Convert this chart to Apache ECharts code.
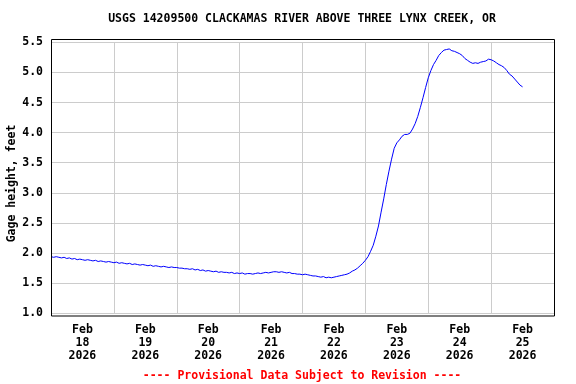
<!DOCTYPE html>
<html>
<head>
<meta charset="utf-8">
<script src="https://cdn.jsdelivr.net/npm/echarts@6/dist/echarts.min.js"></script>
<style>
html,body{margin:0;padding:0;background:#fff;}
#chart{width:576px;height:384px;}
</style>
</head>
<body>
<div id="chart"></div>
<script>
// Chart text
var titleText = 'USGS 14209500 CLACKAMAS RIVER ABOVE THREE LYNX CREEK, OR';
var yAxisTitle = 'Gage height, feet';
var footerText = '---- Provisional Data Subject to Revision ----';

// X axis day bands (each label centered on its day)
var dayLabels = ['Feb\n18\n2026','Feb\n19\n2026','Feb\n20\n2026','Feb\n21\n2026','Feb\n22\n2026','Feb\n23\n2026','Feb\n24\n2026','Feb\n25\n2026'];
var hoursSpan = 192; // Feb 18 00:00 -> Feb 26 00:00

// Y axis ticks
var yMin = 1.0, yMax = 5.5, yStep = 0.5;

// Hourly gage height readings starting Feb 18 00:00 (feet)
var gageHeight = [
 1.94,1.93,1.94,1.93,1.92,1.93,1.91,1.92,1.90,1.91,1.89,1.90,1.89,1.88,1.89,1.88,1.87,1.88,1.86,1.87,1.86,1.85,1.86,1.85,
 1.84,1.85,1.83,1.84,1.83,1.82,1.83,1.81,1.82,1.81,1.80,1.81,1.80,1.79,1.80,1.78,1.79,1.78,1.77,1.78,1.77,1.76,1.77,1.76,
 1.76,1.75,1.75,1.74,1.74,1.73,1.74,1.72,1.73,1.71,1.72,1.70,1.71,1.70,1.69,1.70,1.68,1.69,1.68,1.68,1.67,1.68,1.66,1.67,
 1.66,1.67,1.65,1.66,1.66,1.65,1.66,1.67,1.66,1.67,1.68,1.67,1.68,1.69,1.69,1.68,1.69,1.68,1.67,1.68,1.66,1.66,1.65,1.65,
 1.64,1.65,1.64,1.63,1.62,1.62,1.61,1.60,1.61,1.59,1.60,1.59,1.60,1.61,1.62,1.63,1.64,1.65,1.67,1.70,1.72,1.75,1.79,1.83,
 1.88,1.94,2.03,2.13,2.28,2.45,2.68,2.90,3.14,3.36,3.56,3.74,3.83,3.88,3.94,3.97,3.97,3.99,4.06,4.15,4.27,4.42,4.58,4.75,
 4.91,5.03,5.13,5.20,5.28,5.33,5.37,5.38,5.39,5.36,5.35,5.33,5.31,5.28,5.23,5.20,5.17,5.15,5.16,5.15,5.17,5.18,5.19,5.22,
 5.21,5.19,5.16,5.13,5.11,5.08,5.03,4.97,4.94,4.89,4.84,4.79,4.76
];

var seriesData = gageHeight.map(function(v, i){ return [i, v]; });

var monoFont = '"DejaVu Sans Mono", "Liberation Mono", monospace';

var chart = echarts.init(document.getElementById('chart'), null, {renderer:'canvas'});
chart.setOption({
  animation: false,
  backgroundColor: '#ffffff',
  grid: { left: 51, right: 22, top: 42.3, bottom: 70.7, containLabel: false },
  xAxis: [
    {
      type: 'category', data: dayLabels, boundaryGap: true, gridIndex: 0,
      axisLine: { show: false }, axisTick: { show: false },
      axisLabel: { interval: 0, margin: 10, color: '#000', fontFamily: monoFont, fontWeight: 'bold', fontSize: 11.5, lineHeight: 13 },
      splitLine: { show: true, interval: 0, lineStyle: { color: '#cccccc', width: 1 } }
    },
    {
      type: 'value', min: 0, max: hoursSpan, gridIndex: 0, show: false,
      splitLine: { show: false }
    }
  ],
  yAxis: {
    type: 'value', min: yMin, max: yMax, interval: yStep,
    axisLine: { show: false }, axisTick: { show: false },
    axisLabel: { margin: 8, color: '#000', fontFamily: monoFont, fontWeight: 'bold', fontSize: 11.5,
      formatter: function(v){ return v.toFixed(1); } },
    splitLine: { show: true, lineStyle: { color: '#cccccc', width: 1 } }
  },
  series: [{
    type: 'line', xAxisIndex: 1, yAxisIndex: 0, data: seriesData,
    showSymbol: false, symbol: 'none', smooth: false,
    lineStyle: { color: '#0000ff', width: 1 }
  }],
  graphic: [
    { type: 'rect', shape: { x: 51.5, y: 39.5, width: 503, height: 276.5 },
      style: { fill: null, stroke: '#000', lineWidth: 1 }, z: 100 },
    { type: 'text', x: 302, y: 19, style: { text: titleText, font: 'bold 11.5px ' + monoFont, fill: '#000', align: 'center', verticalAlign: 'middle' } },
    { type: 'text', x: 12, y: 183.5, rotation: Math.PI / 2, style: { text: yAxisTitle, font: 'bold 11.5px ' + monoFont, fill: '#000', align: 'center', verticalAlign: 'middle' } },
    { type: 'text', x: 302, y: 376.5, style: { text: footerText, font: 'bold 11.5px ' + monoFont, fill: '#ff0000', align: 'center', verticalAlign: 'middle' } }
  ]
});
</script>
</body>
</html>
